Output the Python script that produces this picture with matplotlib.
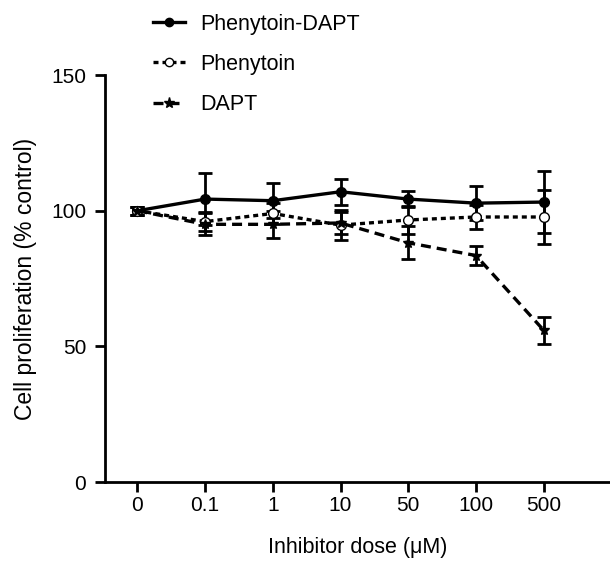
import matplotlib
matplotlib.use("Agg")
import matplotlib.pyplot as plt
from matplotlib.lines import Line2D
import numpy as np

doses = ["0", "0.1", "1", "10", "50", "100", "500"]
pd_mean = [100, 104.3, 103.7, 107, 104.3, 102.8, 103.2]
pd_err = [1.5, 9.5, 6.5, 4.8, 3.0, 6.3, 11.5]
ph_mean = [100, 96, 99, 94.7, 96.6, 97.7, 97.7]
ph_err = [1.5, 3.5, 4.0, 5.5, 5.0, 4.5, 10.0]
da_mean = [100, 95, 95, 95.5, 88.2, 83.5, 56]
da_err = [1.5, 4.0, 5.0, 4.0, 6.0, 3.5, 5.0]

plt.rcParams['font.family'] = ['Liberation Sans', 'DejaVu Sans']
fig = plt.figure(figsize=(6.1, 5.62), dpi=100)
ax = fig.add_axes([0.172, 0.142, 0.828, 0.7245])
x = np.arange(len(doses))

common = dict(color='black', capsize=5, elinewidth=2, capthick=2, linewidth=2.4, markersize=7)
ax.errorbar(x, pd_mean, yerr=pd_err, fmt='-o', mfc='black', **common)
ax.errorbar(x, ph_mean, yerr=ph_err, fmt='o', linestyle=(0, (1.5, 1.2)), mfc='white', **common)
ax.errorbar(x, da_mean, yerr=da_err, fmt='*', linestyle=(0, (3, 1.8)), mfc='black', **common)

ax.set_xlim(-0.48, 6.98)
ax.set_ylim(0, 150)
ax.set_yticks([0, 50, 100, 150])
ax.set_xticks(x)
ax.set_xticklabels(doses)
for s in ['top', 'right']:
    ax.spines[s].set_visible(False)
for s in ['left', 'bottom']:
    ax.spines[s].set_linewidth(2)
ax.tick_params(axis='both', width=2, length=7, labelsize=15, direction='out')
ax.tick_params(axis='x', pad=3)
ax.tick_params(axis='y', pad=6.5)
ax.set_xlabel('Inhibitor dose (μM)', fontsize=15.5, labelpad=16)
ax.set_ylabel('Cell proliferation (% control)', fontsize=16.5, labelpad=10)

handles = [
    Line2D([], [], color='black', lw=2.4, marker='o', markersize=6, mfc='black'),
    Line2D([], [], color='black', lw=2.4, linestyle=(0, (1.5, 1.2)), marker='o', markersize=6, mfc='white'),
    Line2D([], [], color='black', lw=2.4, linestyle=(0, (3, 1.8)), marker='*', markersize=8, mfc='black'),
]
fig.legend(handles, ['Phenytoin-DAPT', 'Phenytoin', 'DAPT'], loc='upper left',
           bbox_to_anchor=(0.219, 1.01), frameon=False, fontsize=15.5,
           labelspacing=0.89, handlelength=1.5, handletextpad=0.7)

fig.savefig('out.png', dpi=100)
